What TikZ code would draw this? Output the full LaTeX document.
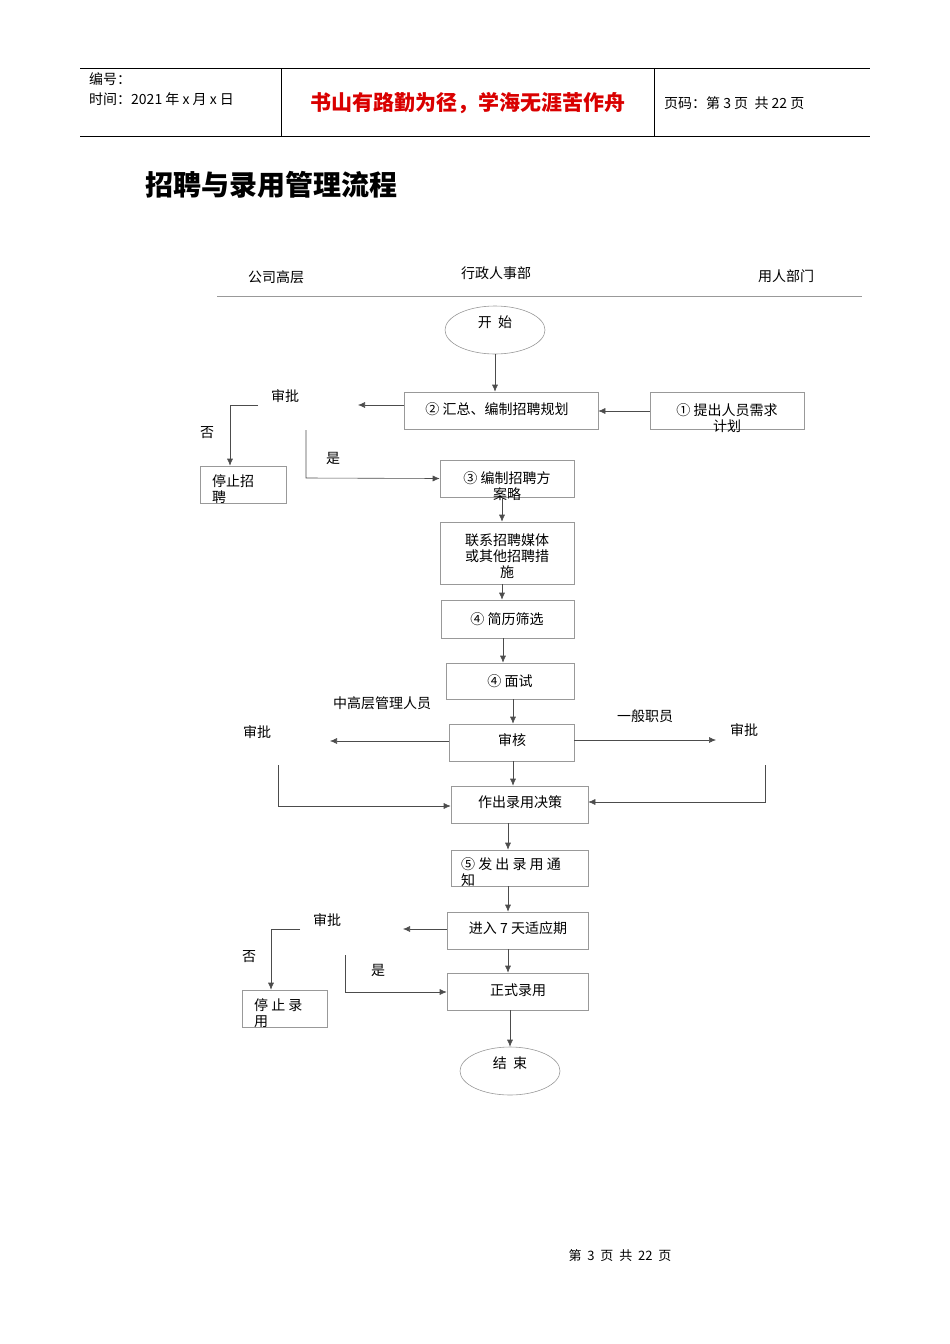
\documentclass[tikz,border=0pt]{standalone}
\usepackage{fontspec}
\setmainfont{Liberation Sans}
\newfontfamily\cjk{Noto Sans CJK SC}
\usetikzlibrary{arrows.meta,shapes.geometric}
\begin{document}
\begin{tikzpicture}[x=1pt,y=-1pt,
  box/.style={draw=gray!80,line width=0.6pt,inner sep=0pt},
  t/.style={font=\cjk\fontsize{14}{16}\selectfont,inner sep=0pt,align=left},
  ln/.style={draw=gray!80,line width=0.6pt},
  ar/.style={ln,-{Latex[length=7pt,width=6pt]},draw=black!70}]
\useasboundingbox (0,0) rectangle (950,1344);
% header
\draw[line width=0.6pt] (80,68)--(870,68) (80,136)--(870,136) (281,68)--(281,136) (654,68)--(654,136);
\node[t,anchor=west] (h1) at (89,79) {编号：};
\node[t,anchor=west] (h2) at (89,99) {时间：2021 年 x 月 x 日};
\node[font=\cjk\bfseries\fontsize{21}{23}\selectfont,text=red!85!black] (h3) at (468,103) {书山有路勤为径，学海无涯苦作舟};
\node[t,anchor=west] (h4) at (664,103) {页码：第 3 页\ \ 共 22 页};
\node[font=\cjk\bfseries\fontsize{28}{30}\selectfont,anchor=west,inner sep=0pt] (title) at (145,185) {招聘与录用管理流程};
% lanes
\node[t] (l1) at (276,277) {公司高层};
\node[t] (l2) at (496,273) {行政人事部};
\node[t] (l3) at (786,276) {用人部门};
\draw[ln] (217,296)--(862,296);
% nodes
\node[box,ellipse,minimum width=100,minimum height=48] (start) at (495,330) {};
\node[t] at (495,322) {开\ \ 始};
\node[box,minimum width=194,minimum height=37] (n2) at (501,410.5) {};
\node[t] at (497,409) {② 汇总、编制招聘规划};
\node[box,minimum width=154,minimum height=37] (n1) at (727,410.5) {};
\node[t,align=center] at (727,418) {① 提出人员需求\\计划};
\node[t] (sp1) at (285,396) {审批};
\node[t] (no1) at (207,433) {否};
\node[t] (yes1) at (333,458) {是};
\node[box,minimum width=86,minimum height=37] (stop1) at (243,484.5) {};
\node[t,anchor=north west] at (212,474) {停止招\\聘};
\node[box,minimum width=134,minimum height=37] (n3) at (507,478.5) {};
\node[t,align=center] at (507,486) {③ 编制招聘方\\案略};
\node[box,minimum width=134,minimum height=62] (n4) at (507,553) {};
\node[t,align=center] at (507,556) {联系招聘媒体\\或其他招聘措\\施};
\node[box,minimum width=133,minimum height=38] (n5) at (507.5,619) {};
\node[t] at (507,619) {④ 简历筛选};
\node[box,minimum width=128,minimum height=36] (n6) at (510,681) {};
\node[t] at (510,681) {④ 面试};
\node[box,minimum width=125,minimum height=37] (n7) at (511.5,742.5) {};
\node[t] at (512,740) {审核};
\node[t] (sp2) at (257,732) {审批};
\node[t] (sp3) at (744,730) {审批};
\node[t] (mid) at (382,703) {中高层管理人员};
\node[t] (gen) at (645,716) {一般职员};
\node[box,minimum width=137,minimum height=37] (n8) at (519.5,804.5) {};
\node[t] at (520,802) {作出录用决策};
\node[box,minimum width=137,minimum height=36] (n9) at (519.5,868) {};
\node[t,anchor=north west] at (461,857) {⑤ 发 出 录 用 通\\知};
\node[box,minimum width=141,minimum height=37] (n10) at (517.5,930.5) {};
\node[t] at (518,928) {进入 7 天适应期};
\node[t] (sp4) at (327,920) {审批};
\node[t] (no2) at (249,957) {否};
\node[t] (yes2) at (378,970) {是};
\node[box,minimum width=85,minimum height=37] (stop2) at (284.5,1008.5) {};
\node[t,anchor=north west] at (254,998) {停\ 止\ 录\\用};
\node[box,minimum width=141,minimum height=37] (n11) at (517.5,991.5) {};
\node[t] at (518,990) {正式录用};
\node[box,ellipse,minimum width=100,minimum height=48] (end) at (510,1071) {};
\node[t] at (510,1063) {结\ \ 束};
\node[font=\cjk\fontsize{13}{15}\selectfont] (foot) at (620,1256) {第\ \ 3\ \ 页\ \ 共\ \ 22\ \ 页};
% coordinates
\coordinate (a1) at (358,405);
\coordinate (a2) at (330,741);
\coordinate (a3) at (716,740);
\coordinate (a4) at (403,929);
% connectors
\draw[ar] (start) -- (n2.north-|start);
\draw[ar] (n1.west|-0,411) -- (n2.east|-0,411);
\draw[ar] (n2.west|-0,405) -- (a1);
\draw[ar] (258,405) -- (230,405) -- (stop1.north-|230,0);
\draw[ar] (306,430) -- (306,478) -- (n3.west);
\draw[ar] (n3.south-|502,0) -- (n4.north-|502,0);
\draw[ar] (n4.south-|502,0) -- (n5.north-|502,0);
\draw[ar] (n5.south-|503,0) -- (n6.north-|503,0);
\draw[ar] (n6.south-|513,0) -- (n7.north-|513,0);
\draw[ar] (n7.west|-a2) -- (a2);
\draw[ar] (n7.east|-a3) -- (a3);
\draw[ar] (n7.south-|513,0) -- (n8.north-|513,0);
\draw[ar] (278,765) -- (278,806) -- (n8.west|-0,806);
\draw[ar] (765,765) -- (765,802) -- (n8.east|-0,802);
\draw[ar] (n8.south-|508,0) -- (n9.north-|508,0);
\draw[ar] (n9.south-|508,0) -- (n10.north-|508,0);
\draw[ar] (n10.west|-a4) -- (a4);
\draw[ar] (300,929) -- (271,929) -- (stop2.north-|271,0);
\draw[ar] (345,955) -- (345,992) -- (n11.west|-0,992);
\draw[ar] (n10.south-|508,0) -- (n11.north-|508,0);
\draw[ar] (n11.south-|510,0) -- (end.north);
\end{tikzpicture}
\end{document}
